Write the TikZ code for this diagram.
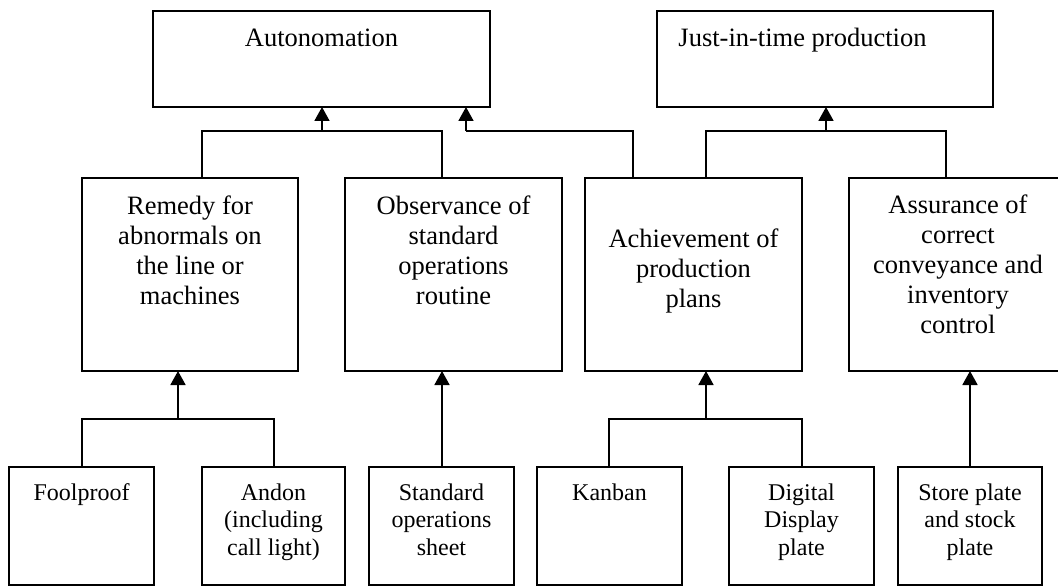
\documentclass[tikz,border=0pt]{standalone}
\usepackage{fontspec}
\setmainfont{Liberation Serif}
\usetikzlibrary{arrows.meta}

% rectangle given by its corner coordinates: name, x1, y1, x2, y2
\newcommand\mkbox[5]{%
  \node[box, minimum width={#4-#2}, minimum height={#5-#3}] (#1)
    at ({(#2+#4)/2},{(#3+#5)/2}) {};}
% invisible struts that fix the height of a first text line
\newcommand\topA{\rule{0pt}{24pt}}
\newcommand\topB{\rule{0pt}{22pt}}

\begin{document}
\begin{tikzpicture}[x=1pt, y=-1pt,
  box/.style={draw, rectangle, line width=1.8pt, inner sep=0pt, outer sep=0pt},
  % text nodes are placed at the baseline of their first line
  big/.style={font=\fontsize{26.5}{30}\selectfont, align=center, inner sep=0pt,
    anchor=north, yshift=24pt},
  small/.style={font=\fontsize{24}{27.6}\selectfont, align=center, inner sep=0pt,
    anchor=north, yshift=22pt},
  link/.style={line width=1.8pt},
  up/.style={line width=1.8pt, -{Triangle[length=14pt,width=15pt]}}]

\clip (0,0) rectangle (1058,588);
\fill[white] (0,0) rectangle (1058,588);

% goals
\mkbox{auto}{153}{11}{490}{107}
\mkbox{jit}{657}{11}{993}{107}
% means
\mkbox{remedy}{82}{178}{298}{371}
\mkbox{observ}{345}{178}{562}{371}
\mkbox{achieve}{585}{178}{802}{371}
\mkbox{assur}{849}{178}{1067}{371}
% tools
\mkbox{fool}{9}{467}{154}{585}
\mkbox{andon}{202}{467}{345}{585}
\mkbox{sheet}{369}{467}{514}{585}
\mkbox{kanban}{537}{467}{682}{585}
\mkbox{digital}{729}{467}{874}{585}
\mkbox{store}{898}{467}{1042}{585}

% texts (y = baseline of the first line)
\node[big] (tauto) at (321.5,46.7) {\topA Autonomation};
\node[big] (tjit) at (802.5,46.7) {\topA Just-in-time production};
\node[big] (tremedy) at (190,214) {\topA Remedy for\\abnormals on\\the line or\\machines};
\node[big] (tobserv) at (453.5,214) {\topA Observance of\\standard\\operations\\routine};
\node[big] (tachieve) at (693.5,247) {\topA Achievement of\\production\\plans};
\node[big] (tassur) at (958,213.3) {\topA Assurance of\\correct\\conveyance and\\inventory\\control};
\node[small] (tfool) at (81.5,500) {\topB Foolproof};
\node[small] (tandon) at (273.5,500) {\topB Andon\\(including\\call light)};
\node[small] (tsheet) at (441.5,500) {\topB Standard\\operations\\sheet};
\node[small] (tkanban) at (609.5,500) {\topB Kanban};
\node[small] (tdigital) at (801.5,500) {\topB Digital\\Display\\plate};
\node[small] (tstore) at (970,500) {\topB Store plate\\and stock\\plate};

% junction points
\coordinate (ja) at (322,131);
\coordinate (ja1) at (202,131);
\coordinate (ja2) at (442,131);
\coordinate (jb) at (466,131);
\coordinate (jb1) at (633,131);
\coordinate (jc) at (826,131);
\coordinate (jc1) at (706,131);
\coordinate (jc2) at (946,131);
\coordinate (jd) at (178,419);
\coordinate (jd1) at (82,419);
\coordinate (jd2) at (274,419);
\coordinate (je) at (442,419);
\coordinate (jf) at (706,419);
\coordinate (jf1) at (609,419);
\coordinate (jf2) at (802,419);
\coordinate (jg) at (970,419);

% means to goals
\draw[link] (remedy.north -| ja1) -- (ja1) -- (ja2) -- (observ.north -| ja2);
\draw[up] (ja) -- (auto.south -| ja);
\draw[link] (achieve.north -| jb1) -- (jb1) -- (jb);
\draw[up] (jb) -- (auto.south -| jb);
\draw[link] (achieve.north -| jc1) -- (jc1) -- (jc2) -- (assur.north -| jc2);
\draw[up] (jc) -- (jit.south -| jc);

% tools to means
\draw[link] (fool.north -| jd1) -- (jd1) -- (jd2) -- (andon.north -| jd2);
\draw[up] (jd) -- (remedy.south -| jd);
\draw[up] (sheet.north -| je) -- (observ.south -| je);
\draw[link] (kanban.north -| jf1) -- (jf1) -- (jf2) -- (digital.north -| jf2);
\draw[up] (jf) -- (achieve.south -| jf);
\draw[up] (store.north -| jg) -- (assur.south -| jg);
\end{tikzpicture}
\end{document}
